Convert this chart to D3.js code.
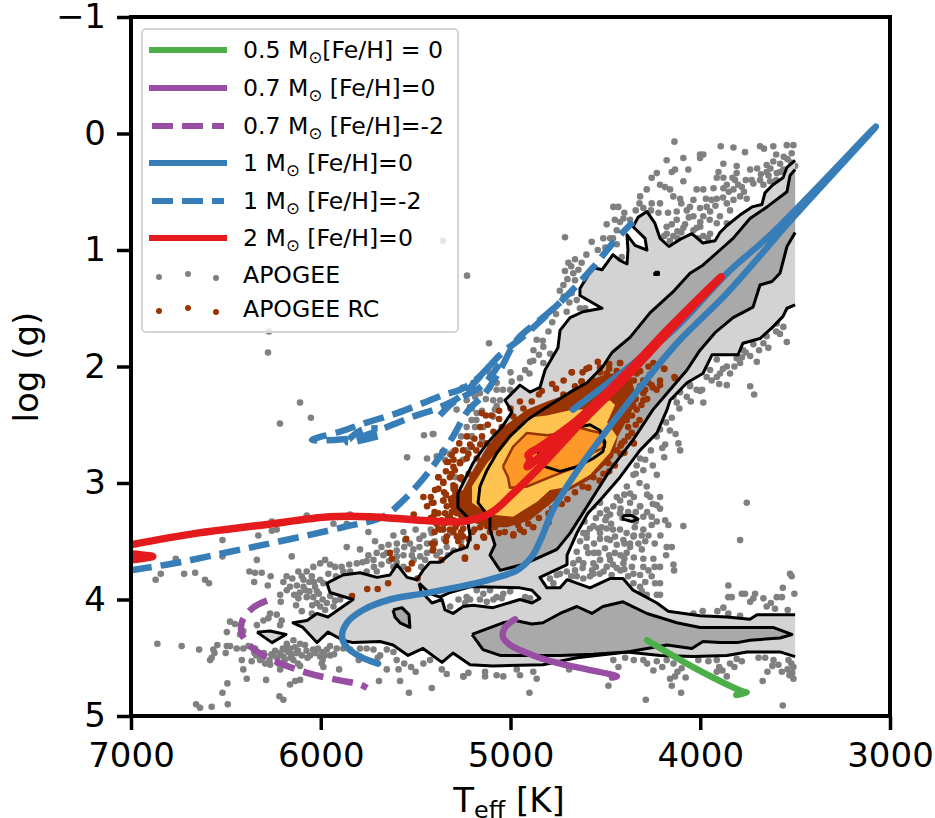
<!DOCTYPE html>
<html>
<head>
<meta charset="utf-8">
<title>log g vs Teff</title>
<script src="https://cdn.jsdelivr.net/npm/d3@7"></script>
<style>
    body { margin: 0; background: #fff; }
    text { font-family: "DejaVu Sans", sans-serif; fill: #000; }
</style>
</head>
<body>
<svg id="container" width="935" height="818"></svg>
<script>
// Everything below is [Teff, log g].
const teffTicks = [7000, 6000, 5000, 4000, 3000];
const loggTicks = [-1, 0, 1, 2, 3, 4, 5];

const track05 = [[4280,4.35],[4038,4.58],[3775,4.79],[3755,4.80],[3810,4.82]];
const track07 = [[4976,4.17],[5029,4.24],[5040,4.32],[5003,4.39],[4880,4.48],[4739,4.55],[4597,4.60],[4439,4.66],[4465,4.67]];
const track07Poor = [[6283,4.01],[6357,4.07],[6415,4.19],[6415,4.30],[6357,4.42],[6252,4.52],[6072,4.63],[5914,4.69],[5793,4.73],[5756,4.76]];
const track1 = [[5698,4.55],[5793,4.49],[5862,4.41],[5888,4.32],[5862,4.20],[5777,4.09],[5635,4.00],[5461,3.95],[5266,3.89],[5092,3.82],[4966,3.75],[4887,3.63],[4834,3.46],[4776,3.23],[4671,2.95],[4544,2.66],[4370,2.29],[4123,1.80],[3859,1.37],[3510,0.72],[3074,-0.06],[3617,0.85],[3859,1.20],[4144,1.69],[4671,2.37]];
const track1Poor = [[7000,3.75],[6742,3.68],[6478,3.59],[6215,3.50],[5883,3.38],[5672,3.29],[5572,3.16],[5424,2.89],[5303,2.60],[5229,2.39],[5134,2.23],[5055,2.03],[4966,1.77],[4845,1.60],[4739,1.45],[4565,1.15],[4460,0.94],[4355,0.76]];
const track1PoorHb = [[5108,1.99],[5187,2.12],[5266,2.20],[5345,2.24],[5440,2.30],[5598,2.40],[5756,2.48],[5899,2.56],[6046,2.63],[5925,2.63],[5809,2.61],[5651,2.52],[5514,2.43],[5387,2.36],[5266,2.26],[5145,2.06],[5055,1.90],[4924,1.73],[4739,1.45]];
const track1PoorAgb = [[5372,2.42],[5303,2.31],[5145,2.16],[5060,1.98]];
const track1PoorLoop = [[5700,2.60],[5860,2.65],[5790,2.55],[5700,2.53]];
const track2 = [[7000,3.53],[6652,3.43],[6304,3.36],[5951,3.29],[5740,3.29],[5477,3.32],[5250,3.33],[5108,3.26],[4987,3.09],[4808,2.80],[4650,2.52],[4370,2.06],[4159,1.69],[3890,1.23],[4159,1.66],[4370,2.02],[4650,2.46],[4845,2.69],[4908,2.76],[4897,2.80],[4913,2.86],[4780,2.68],[4600,2.44]];
const track2Start = [[7000,3.61],[6885,3.63],[7000,3.66]];

const contourOuter = [[3500,.23],[3543,.29],[3564,.38],[3617,.44],[3659,.51],[3675,.61],[3727,.63],[3791,.70],[3859,.79],[3896,.85],[3922,.92],[3986,.94],[4044,.86],[4096,.90],[4165,.97],[4212,.90],[4239,.77],[4281,.67],[4328,.72],[4354,.80],[4291,.90],[4281,1.00],[4344,.96],[4386,.87],[4381,1.00],[4386,1.12],[4423,1.09],[4460,1.04],[4518,1.17],[4565,1.15],[4634,1.33],[4634,1.39],[4518,1.50],[4618,1.53],[4686,1.58],[4739,1.69],[4750,1.84],[4818,2.03],[4845,2.18],[4897,2.22],[4950,2.16],[5029,2.29],[4992,2.39],[5045,2.52],[5124,2.66],[5198,2.83],[5277,3.09],[5277,3.21],[5229,3.29],[5213,3.46],[5229,3.55],[5303,3.59],[5372,3.68],[5424,3.68],[5461,3.75],[5493,3.83],[5545,3.81],[5598,3.70],[5635,3.79],[5704,3.81],[5793,3.77],[5883,3.79],[5967,3.86],[5951,3.94],[5830,4.00],[5883,4.06],[5962,4.15],[6020,4.12],[6072,4.18],[6146,4.20],[6094,4.24],[6020,4.37],[5962,4.28],[5883,4.35],[5830,4.37],[5688,4.36],[5619,4.39],[5540,4.48],[5461,4.42],[5361,4.54],[5303,4.46],[5213,4.56],[5092,4.57],[4829,4.56],[4650,4.50],[4386,4.45],[4212,4.48],[4038,4.49],[3859,4.48],[3754,4.45],[3580,4.45],[3500,4.49],[3500,4.13],[3701,4.13],[3738,4.17],[3859,4.15],[4001,4.14],[4170,4.10],[4228,4.03],[4354,3.92],[4407,3.82],[4476,3.82],[4581,3.90],[4702,3.83],[4739,3.90],[4808,3.90],[4845,3.81],[4702,3.70],[4702,3.62],[4650,3.43],[4592,3.26],[4513,3.12],[4423,2.95],[4318,2.72],[4228,2.57],[4175,2.37],[4159,2.29],[4070,2.14],[3986,2.06],[3938,1.90],[3859,1.90],[3801,1.90],[3775,1.80],[3685,1.76],[3617,1.66],[3564,1.57],[3543,1.50],[3500,1.47]];
const contourHole = [[5482,3.86],[5471,3.93],[5414,4.03],[5361,4.00],[5345,4.09],[5303,4.12],[5250,4.06],[5198,4.05],[5092,4.07],[4950,4.00],[4887,4.03],[4845,3.99],[4887,3.92],[4950,3.90],[5177,3.89],[5213,3.89],[5319,3.94],[5372,3.98],[5424,3.95]];
const contourIslandA = [[6336,4.28],[6267,4.27],[6183,4.30],[6257,4.37]];
const contourIslandB = [[4407,3.28],[4360,3.28],[4328,3.31],[4360,3.33],[4407,3.31]];
const contourIslandC = [[4240,1.19],[4220,1.19],[4220,1.21],[4240,1.21]];
const contourDarkGiants = [[3500,.31],[3527,.36],[3543,.50],[3648,.63],[3738,.73],[3827,.90],[3896,1.00],[3986,1.13],[4054,1.20],[4144,1.36],[4265,1.54],[4370,1.75],[4465,1.88],[4513,2.00],[4597,2.14],[4686,2.22],[4723,2.26],[4829,2.37],[4913,2.46],[5003,2.60],[5071,2.74],[5124,2.89],[5161,3.03],[5171,3.17],[5108,3.30],[5108,3.40],[5082,3.53],[5108,3.62],[5055,3.75],[4934,3.70],[4755,3.57],[4686,3.43],[4592,3.19],[4476,2.89],[4354,2.63],[4249,2.37],[4175,2.23],[4070,2.03],[4001,1.86],[3922,1.71],[3827,1.58],[3722,1.49],[3685,1.30],[3622,1.27],[3580,1.20],[3543,.97],[3500,.85]];
const contourDarkDwarfs = [[5203,4.30],[5040,4.20],[4976,4.18],[4887,4.21],[4829,4.20],[4739,4.12],[4650,4.06],[4571,4.12],[4513,4.06],[4407,4.02],[4281,4.12],[4123,4.20],[4001,4.24],[3806,4.24],[3617,4.24],[3517,4.30],[3580,4.33],[3738,4.35],[3806,4.37],[3896,4.37],[3986,4.36],[4044,4.42],[4175,4.39],[4386,4.45],[4565,4.47],[4739,4.48],[5055,4.48],[5145,4.43]];
const contourDarkIsland = [[5619,4.09],[5572,4.07],[5535,4.13],[5530,4.24],[5582,4.20],[5609,4.15]];
const contourCore = [[4860,2.70],[4845,2.79],[4818,2.86],[4739,2.90],[4650,2.86],[4565,2.79],[4513,2.73],[4502,2.65],[4528,2.55],[4581,2.50],[4644,2.52]];

const rcBase = [[5250,3.06],[5198,2.89],[5124,2.69],[5040,2.52],[4913,2.37],[4808,2.30],[4686,2.23],[4581,2.12],[4491,2.06],[4370,2.06],[4333,2.29],[4386,2.46],[4434,2.60],[4460,2.78],[4581,2.97],[4723,3.09],[4829,3.23],[4897,3.32],[5018,3.38],[5124,3.38],[5229,3.32],[5319,3.21],[5335,3.12]];
const rcYellow = [[5203,3.17],[5108,3.27],[4987,3.29],[4860,3.16],[4792,3.06],[4686,3.03],[4581,2.93],[4476,2.74],[4439,2.60],[4491,2.48],[4449,2.33],[4476,2.29],[4597,2.37],[4671,2.37],[4808,2.42],[4913,2.44],[5018,2.63],[5124,2.83],[5203,3.03]];
const rcOrange = [[5040,2.86],[5013,2.95],[5003,3.04],[4913,3.03],[4792,2.95],[4650,2.86],[4565,2.74],[4502,2.69],[4528,2.57],[4581,2.55],[4650,2.52],[4723,2.57],[4808,2.59],[4913,2.57],[4987,2.69]];

const apogeeStars = [
    [6861,4.38],[6733,4.40],[6641,4.43],[6583,4.52],[6575,4.50],[6566,4.43],[6545,4.39],[6560,4.46],[6501,4.46],[6495,4.40],[6478,4.40],[6443,4.42],[6408,4.42],[6381,4.40],[6346,4.42],
    [6416,4.52],[6408,4.60],[6364,4.53],[6320,4.52],[6293,4.55],[6267,4.56],[6223,4.55],[6214,4.60],[6288,4.69],[6390,4.68],[6492,4.72],[6518,4.80],[6657,4.90],[6636,4.93],[6575,4.92],[6490,4.90],[6218,4.83],[6197,4.86],
    [6162,4.73],[6135,4.70],[6109,4.69],[5903,4.60],[5995,4.55],[5986,4.58],[5693,4.70],[5582,4.70],[5535,4.80],[5415,4.76],[5652,4.60],[5590,4.60],[5524,4.58],[5600,4.52],[5459,4.55],[5424,4.52],[5362,4.60],[5336,4.64],[5248,4.66],[5222,4.63],
    [6179,4.38],[6162,4.42],[6144,4.35],[6126,4.46],[6188,4.43],[6109,4.38],[6083,4.39],[6056,4.48],[6030,4.46],[5995,4.45],[5968,4.43],[5951,4.40],[5916,4.42],[5881,4.42],[5845,4.43],[5793,4.49],[5758,4.42],[5722,4.43],[5687,4.48],[5652,4.43],[5617,4.45],[5793,4.42],[6003,4.49],[6214,4.46],[6197,4.49],[6144,4.52],[6109,4.57],
    [6170,4.45],[6150,4.47],[6135,4.41],[6120,4.44],[6100,4.48],[6075,4.44],[6015,4.42],[5980,4.48],[5930,4.47],[6230,4.50],[6250,4.48],[6190,4.52],[6160,4.50],
    [6118,3.76],[6091,3.83],[6074,3.76],[6047,3.80],[6039,3.72],[6003,3.69],[5977,3.66],[5951,3.70],[5924,3.72],[5881,3.76],[5845,3.76],[5810,3.69],[5758,3.76],[5705,3.76],[6003,3.83],[5986,3.86],[6030,3.89],[6091,3.89],[6126,3.88],[6162,3.89],[6197,3.85],[6179,3.92],[6118,3.99],[6074,3.98],[6039,3.98],[6021,4.03],[6003,4.06],[5968,4.03],[5933,4.06],[5898,4.00],[6100,4.10],[6047,4.12],[5977,4.09],[6214,3.96],[6211,4.02],
    [6060,3.85],[6035,3.85],[6110,3.94],[6140,3.96],[6080,3.92],[6010,3.95],[5990,4.00],[6045,4.05],[6020,3.93],[5950,3.97],[5925,4.01],
    [6264,3.80],[6279,3.88],[6311,3.77],[6346,3.77],[6376,3.76],[6351,3.85],[6337,3.66],[6153,3.63],[5863,3.55],[5793,3.57],[5749,3.42],[5714,3.50],[5705,3.60],[5670,3.62],[5643,3.53],[5617,3.45],[5599,3.52],[5564,3.42],[5555,3.49],
    [6518,3.49],[6518,3.63],[6764,3.65],[6843,3.78],[6870,3.83],[6720,3.78],[6662,3.77],[6610,3.83],[6589,3.86],[6329,3.45],[6258,3.41],[6232,3.40],[6258,3.33],[6074,3.28],[5845,3.27],[5933,3.35],[5863,3.35],
    [6478,4.19],[6452,4.21],[6495,4.28],[6408,4.27],[6425,4.30],[6337,4.22],[6302,4.18],[6267,4.12],[6232,4.13],[6206,4.18],[6214,4.22],[6276,4.16],
    [5652,3.60],[5599,3.63],[5564,3.62],[5512,3.57],[5476,3.63],[5450,3.66],[5371,3.59],[5336,3.55],[5459,3.45],[5415,3.43],[5318,3.43],[5274,3.46],[5248,3.57],[5564,3.72],[5617,3.72],[5749,3.62],[5722,3.66],[5758,3.67],
    [5440,3.52],[5480,3.55],[5390,3.62],[5350,3.48],[5300,3.58],[5420,3.40],[5500,3.40],[5530,3.52],[5470,3.72],[5510,3.66],[5440,3.60],
    [5318,4.06],[5274,4.00],[5239,4.03],[5178,3.92],[5143,3.95],[5108,3.92],[5073,3.98],[5038,3.95],[5002,3.93],[5161,4.00],[5125,4.02],[5090,4.00],[5046,3.99],[4923,3.98],[4897,3.99],[5231,3.98],[5213,4.00],
    [4563,3.20],[4528,3.17],[4493,3.23],[4458,3.20],[4423,3.26],[4528,3.26],[4475,3.27],[4370,3.17],[4317,3.20],[4229,3.19],[4212,3.22],[4300,3.29],[4256,3.29],[4229,3.33],[4185,3.32],[4256,3.36],[4168,3.36],[4089,3.37],[4616,3.43],[4581,3.39],[4537,3.39],[4493,3.39],[4423,3.40],[4388,3.43],[4449,3.46],[4528,3.48],[4475,3.49],[4598,3.47],[4633,3.50],[4651,3.59],[4590,3.60],[4537,3.60],[4502,3.56],[4440,3.53],[4405,3.49],[4352,3.46],[4308,3.45],[4273,3.45],[4370,3.55],[4326,3.52],[4308,3.57],[4388,3.60],[4300,3.65],[4247,3.65],[4177,3.55],[4150,3.55],[4528,3.66],[4475,3.66],[4405,3.69],[4493,3.72],[4440,3.73],[4616,3.69],[4563,3.69],[4669,3.69],[4660,3.75],[4704,3.76],[4739,3.78],[4792,3.82],[4774,3.86],[4756,3.79],[4651,3.80],[4616,3.82],[4563,3.78],[4581,3.80],[4510,3.76],[4467,3.79],[4352,3.78],[4317,3.79],[4273,3.75],[4212,3.72],[4141,3.70],[4138,3.75],[4256,3.80],[4238,3.86],[4212,3.86],[4352,3.86],[4317,3.89],[4308,3.93],[4282,3.96],[4229,3.96],[4212,3.96],[3790,3.49],[3755,3.17],[3852,3.88],[3565,3.90],[3527,3.78],[3518,3.80],
    [4500,3.32],[4470,3.35],[4550,3.30],[4610,3.33],[4410,3.30],[4340,3.33],[4280,3.25],[4345,3.38],[4300,3.40],[4560,3.52],[4490,3.48],[4420,3.62],[4350,3.64],[4450,3.60],[4570,3.75],[4530,3.78],[4400,3.74],[4360,3.72],[4290,3.85],[4620,3.73],[4680,3.80],
    [5248,4.66],[5134,4.62],[5134,4.66],[5073,4.65],[5038,4.66],[4967,4.60],[4950,4.65],[4880,4.62],[4862,4.68],[4900,4.80],[4691,4.60],[4484,4.74],[4458,4.52],[4431,4.58],[4396,4.50],[4300,4.52],[4247,4.61],[4229,4.53],[4177,4.52],[4141,4.55],[4098,4.59],[4159,4.68],[4133,4.66],[4150,4.74],[4101,4.80],[4077,4.67],[4287,4.86],[3957,4.53],[3913,4.52],[3843,4.55],[3808,4.51],[3781,4.53],[3913,4.62],[3883,4.61],[3860,4.66],[3671,4.70],[3565,4.91],[3693,4.50],[3658,4.50],[3614,4.52],[3588,4.56],[3570,4.62],[3646,4.62],[3535,4.52],[3509,4.58],[3509,4.68],[3520,4.55],[3540,4.60],[3515,4.63],
    [4036,4.12],[3987,4.10],[3910,4.10],[3878,4.07],[3852,3.98],[3834,3.98],[3781,3.95],[3764,3.95],[3711,3.95],[3720,3.99],[3737,4.02],[3667,3.99],[3628,4.03],[3597,3.98],[3570,3.98],[3606,4.08],[3539,4.09],[3504,3.95],[3650,4.06],[3852,4.12],[3790,4.14],
    [4136,.07],[3892,.11],[3825,.12],[3764,.16],[3685,.11],[3664,.13],[3615,.11],[3544,.10],[3509,.10],[3518,.17],[4177,.23],[4089,.21],[4001,.18],[3984,.18],[4001,.21],[4133,.31],[4150,.33],[4063,.31],[4229,.34],[4256,.38],[3904,.33],[3913,.38],[3878,.38],[3878,.26],[3808,.28],[3808,.34],[3817,.40],[3737,.31],[3729,.40],[3720,.43],[3650,.27],[3615,.24],[3579,.26],[3562,.31],[3597,.34],[3650,.33],[3500,.28],[4089,.41],[4212,.44],[4186,.46],[4282,.48],[4317,.54],[4159,.48],[4019,.48],[3984,.48],[3878,.47],[3825,.48],[3781,.46],[3685,.40],[3632,.41],[3667,.44],[3790,.54],[3755,.56],[3825,.57],[3860,.60],[3913,.56],[3940,.57],[3966,.63],[4036,.57],[4054,.63],[4106,.56],[4142,.54],[4212,.60],[4256,.60],[4458,.63],[4432,.63],[4300,.64],[4124,.67],[4071,.66],[4001,.64],[3948,.67],[3896,.71],[3843,.66],[4124,.74],[4036,.71],[3984,.71],[3913,.77],[3860,.77],[4177,.80],[4089,.81],[4019,.81],[3948,.86],[4177,.86],[4142,.88],[4036,.83],[3984,.88],[4405,.73],[4423,.76],[4370,.74],[4493,.78],[4440,.83],[4713,.89],[4572,.93],[4511,.90],[4475,.90],[4414,1.06],[4695,1.11],[4625,1.11],[4669,1.20],[4642,1.17],[4713,1.18],[4660,1.26],[4721,1.30],[4677,1.37],[4651,1.43],[4704,1.53],[4634,1.50],[4607,1.50],
    [3562,1.66],[3597,1.63],[3632,1.66],[3544,1.79],[3641,1.84],[3667,1.80],[3720,1.81],[3773,1.86],[3737,1.91],[3702,1.96],[3808,1.93],[3790,1.97],[3860,2.00],[3913,1.94],[3948,2.03],[3896,2.06],[3843,2.06],[3966,2.09],[3913,2.09],[3860,2.16],[3737,2.17],[3716,2.24],[4019,2.20],[4071,2.26],[4124,2.31],[3984,2.31],[4054,2.17],[4001,2.21],
    [5113,1.80],[4862,1.77],[4827,1.83],[4791,1.89],[4879,1.86],[4774,1.97],[4827,1.97],[4897,1.96],[4923,2.03],[4994,2.13],[5196,2.14],[5073,2.20],[5002,2.20],[5108,2.06],[5204,2.36],[5406,2.58],[5204,2.60],[5319,2.75],[5187,2.52],[5345,2.80],
    [4106,2.22],[4054,2.16],[4141,2.26],[4194,2.34],[4212,2.54],[4229,2.60],[4185,2.67],[4115,2.66],[4106,2.72],[4317,2.79],[4335,2.85],[4300,2.89],[4229,2.93],[4387,3.03],[4370,3.09],[4282,3.03],[4264,3.12],[4212,3.12],[4317,3.20],[4440,3.12],[4352,2.93],[4422,3.15],[4493,3.29],[4563,3.37],[4528,3.43],[4598,3.43],[4370,3.52],
    [5252,2.18],[5187,2.26],[5161,2.23],[5073,2.14],[5231,2.29],[5091,2.29],[5073,2.34],[5178,2.40],[5091,2.43],[5284,2.37],[5205,2.46],[5231,2.52],[5205,2.60],[5143,2.52],[5231,2.72],[5301,2.73],[5389,2.77],[5055,2.29],[5082,2.37],
    [5229,1.22],[6109,2.31],[6052,2.44],[6215,2.49],[5456,2.59],[5410,2.58],[5545,2.78],[5440,2.79],[6278,1.88],[6273,1.70],[5356,.92],
    [4100,.60],[4060,.72],[4000,.76],[3950,.74],[3920,.62],[3880,.55],[3850,.50],[3800,.44],[3760,.40],[3700,.30],[3680,.35],[3640,.36],[3600,.40],[3580,.33],[3540,.22],[3520,.25],[3560,.20],[3600,.18],[3630,.30],[3770,.50],[3830,.38],[3860,.44],[3930,.47],[3970,.56],[4080,.78],[4120,.84],[4160,.92],[4190,.88],[4120,.90],[4100,.85],[4010,.90],[3960,.90],[4050,.88],[4000,.80],[4150,.78],[4170,.68],[4220,.68],[4260,.66],[4320,.60],[4340,.66],[4400,.68],[4450,.74],[4460,.90],[4440,.95],[4500,.98],[4540,1.00],[4600,1.04],[4660,1.08],[4680,1.14],[4700,1.25],[4740,1.35],[4690,1.45],[4720,1.40],[4760,1.55],[4780,1.62],[4800,1.70],[4830,1.78],[4850,1.90],[4880,1.95],[4900,2.06],[4950,2.10],[5000,2.05],[5040,2.20],[5110,2.18],[5130,2.28],[5150,2.38],[5180,2.46],[5260,2.60],[5150,2.64],[5250,2.80],[5290,2.95],
    [4050,2.30],[3990,2.20],[3940,2.12],[3900,2.15],[3880,2.02],[3820,2.00],[3780,1.92],[3760,1.88],[3690,1.86],[3650,1.74],[3600,1.70],[3580,1.72],[4110,2.36],[4150,2.44],[4180,2.48],[4160,2.55],[4130,2.58],[4200,2.70],[4260,2.72],[4290,2.80],[4250,2.85],[4190,2.78],[4340,2.92],[4320,3.00],[4280,3.10],[4400,3.10],[4350,3.12],[4420,3.22],[4380,3.25],[4250,3.18],[4340,3.25],[4520,3.38],[4460,3.40],[4400,3.52],[4350,3.45],[4290,3.50],[4240,3.52],[4210,3.45],[4180,3.62],[4560,3.60],[4480,3.62],[4400,3.65],[4600,3.55],[4640,3.66],[4550,3.72],[4380,3.80],[4420,3.75],[4460,3.70],[4300,3.72],[4240,3.72],
    [5900,3.90],[5870,3.95],[5950,3.88],[5920,3.80],[5890,3.72],[5960,3.78],[6060,3.93],[6100,3.80],[6150,3.82],[6180,3.80],[6130,4.05],[5850,3.70],[5780,3.68],[5720,3.72],[5680,3.70],[5640,3.67],[5600,3.68],[5560,3.55],[5520,3.62],[5480,3.48],[5600,3.58],[5680,3.55],[5400,3.50],[5330,3.62],[5260,3.50],[5290,3.66],[5230,3.62],
    [6340,4.48],[6300,4.46],[6260,4.47],[6310,4.50],[6350,4.46],[6270,4.52],[6240,4.44],[6200,4.42],[6120,4.55],[6070,4.50],[6040,4.43],[5990,4.52],[5950,4.48],[5700,4.50],[5800,4.52],[5560,4.55],[5500,4.62],
    [4200,4.58],[4280,4.55],[4350,4.52],[4120,4.62],[4010,4.52],[3900,4.58],[3820,4.58],[3620,4.57],[3530,4.65]
];

const apogeeRc = [
    [4677,2.05],[4625,2.13],[4760,2.19],[4835,2.21],[4888,2.30],[4932,2.36],[4985,2.43],[5046,2.52],[5090,2.56],[5125,2.66],[5160,2.67],[5204,2.69],[5231,2.79],[5178,2.79],[5357,2.73],[5266,2.83],[5301,2.86],[5336,2.82],[5319,2.95],[5380,2.95],[5354,3.00],[5292,3.03],[5398,3.06],[5354,3.15],[5301,3.13],[5406,3.17],[5336,3.20],[5389,3.26],[5283,3.26],[5248,3.20],[5371,3.40],[5319,3.40],[5283,3.46],[5231,3.32],[5178,3.25],[5139,3.47],[5240,3.64],[5336,3.46],[5415,3.52],
    [5125,3.37],[5090,3.33],[5029,3.33],[4985,3.44],[4906,3.35],[4862,3.23],[4809,3.17],[4748,3.12],[4651,2.99],[4563,2.95],[4484,2.83],[4440,2.72],[4387,2.46],[4361,2.57],[4335,2.37],[4300,2.29],[4370,2.30],[4317,2.17],[4273,2.14],[4264,2.07],[4212,2.12],[4189,2.02],[4133,2.10],[4247,1.97],[4317,2.04],[4422,1.97],[4387,2.14],[4458,2.12],[4493,2.06],[4563,2.12],[4528,2.05],[4431,2.32],[4396,2.33],[4352,2.34],[4414,2.66],[5037,2.95],
    [4586,2.01],[4677,2.05],[4423,1.97],[4273,2.00],[4191,2.02],[4136,2.09],[4212,2.16],[4256,2.16],[4300,2.23],[4335,2.06],[4528,2.01],[4625,2.13],[4660,2.17],[4721,2.24],
    [5550,3.48],[5635,3.60],[5625,3.65],[5520,3.69],[5540,3.74],[5490,3.82],[5645,3.86],[5700,3.91],[5755,3.91],[5835,3.97],[5510,3.27],[5400,3.52],[5410,3.58],
    [5290,3.10],[5350,3.08],[5400,3.25],[5330,3.30],[5280,3.35],[5260,3.42],[5200,3.42],[5170,3.30],[5390,3.35],[5310,2.92],[5260,2.95],[5220,2.92],[5180,2.72],[5150,2.60],[5120,2.50],[5060,2.45],[5000,2.36],[4950,2.30],[4850,2.24],[4780,2.15],[4720,2.12],[4620,2.05],[4480,1.98],[4350,2.12],[4290,2.20],[4320,2.46],[4380,2.60],[4420,2.75],[4510,2.92],[4620,3.03],[4700,3.14],[4780,3.22],[4850,3.30],[4950,3.40],[5060,3.43],
    [5354,2.74],[5310,2.76],[5328,2.82],[5293,2.89],[5266,2.82],[5380,2.95],[5354,2.99],[5266,2.96],[5301,3.02],[5293,3.06],[5257,2.97],[5459,3.12],[5354,3.15],[5415,3.17],[5380,3.26],[5345,3.26],[5301,3.20],[5249,3.23],[5407,3.29],[5363,3.32],[5319,3.29],[5380,3.39],[5354,3.40],[5301,3.42],[5249,3.39],[5275,3.50],[5257,3.55],[5407,3.57],[5178,3.55],[5143,3.46],[5108,3.42],[5082,3.38],[4985,3.45],[5240,3.65],[5363,3.66],[5222,2.75],[5213,2.67],[5152,2.40],[5213,2.35],
    [5380,3.05],[5340,3.10],[5420,3.12],[5440,3.20],[5300,3.05],[5270,3.10],[5310,3.25],[5260,3.28],[5420,3.30],[5350,3.35],[5300,3.32],[5400,3.42],[5340,3.50],[5290,3.38],[5250,3.46],[5220,3.48],[5190,3.40],[5160,3.38],[5300,2.80],[5340,2.90],[5290,2.72],[5250,2.72],[5270,2.66],[5230,2.60],[5190,2.62],[5160,2.52],[5130,2.42],[5100,2.42],[5060,2.38],
    [4600,2.02],[4540,1.96],[4480,2.02],[4440,2.04],[4400,2.06],[4360,2.04],[4340,1.98],[4300,2.12],[4250,2.18],[4280,2.28],[4310,2.33],[4230,2.20],[4340,2.28],[4360,2.42],[4400,2.40],[4340,2.50],[4380,2.52],[4400,2.64],[4350,2.66],[4420,2.68],[4400,2.74],[4450,2.85],[4480,2.90],[4530,2.98],[4590,3.04],[4660,3.08],[4730,3.18],[4800,3.26],[4880,3.38],[4930,3.42],[4800,3.34],[5030,3.42],[4960,3.36]
];

// Legend rows, top to bottom.
const legendMass = ['0.5', '0.7', '0.7', '1', '1', '2'];
const legendMetal = ['[Fe/H] = 0', ' [Fe/H]=0', ' [Fe/H]=-2', ' [Fe/H]=0', ' [Fe/H]=-2', ' [Fe/H]=0'];
const legendColor = ['#4daf4a', '#984ea3', '#984ea3', '#377eb8', '#377eb8', '#e41a1c'];
const legendDashed = [false, false, true, false, true, false];
const legendY = [50, 88, 126, 163, 201, 238];

const fillLight = '#d3d3d3', fillDark = '#a9a9a9', dotGray = '#808080', rcBrown = '#993404';
const dash = '21 9';
const axisFont = 34, legendFont = 23.6;

const svg = d3.select('#container');
const plotLeft = 131, plotRight = 890, plotTop = 17, plotBottom = 716;

const x = d3.scaleLinear().domain([7000, 3000]).range([plotLeft, plotRight]);
const y = d3.scaleLinear().domain([-1, 5]).range([plotTop, plotBottom]);
const line = d3.line().x(d => x(d[0])).y(d => y(d[1]));
const smoothLine = d3.line().x(d => x(d[0])).y(d => y(d[1])).curve(d3.curveCatmullRom.alpha(0.5));

svg.append('clipPath').attr('id', 'plotClip').append('rect')
    .attr('x', plotLeft).attr('y', plotTop).attr('width', plotRight - plotLeft).attr('height', plotBottom - plotTop);
const plot = svg.append('g').attr('clip-path', 'url(#plotClip)');

function drawDots(data, color)
{
    plot.append('g').selectAll('circle').data(data).join('circle')
        .attr('cx', d => x(d[0])).attr('cy', d => y(d[1])).attr('r', 3.3).attr('fill', color);
}

function drawFill(rings, color)
{
    plot.append('path').attr('fill', color).attr('fill-rule', 'evenodd')
        .attr('d', rings.map(r => line(r) + 'Z').join(''));
}

// The contour is cut off at the edge of the grid, matplotlib draws no line along that edge.
function drawOutline(ring, color, width)
{
    var parts = [[]];
    ring.concat([ring[0]]).forEach((p, i, all) => {
        if (i > 0 && p[0] === 3500 && all[i - 1][0] === 3500)
        {
            parts.push([]);
        }
        parts[parts.length - 1].push(p);
    });
    parts.forEach(part => {
        plot.append('path').attr('d', line(part)).attr('fill', 'none')
            .attr('stroke', color).attr('stroke-width', width).attr('stroke-linejoin', 'round');
    });
}

function drawTrack(data, color, dashed, width)
{
    plot.append('path').attr('d', smoothLine(data)).attr('fill', 'none')
        .attr('stroke', color).attr('stroke-width', width)
        .attr('stroke-linejoin', 'round')
        .attr('stroke-linecap', dashed ? 'butt' : 'round')
        .attr('stroke-dasharray', dashed ? dash : null);
}

drawDots(apogeeStars, dotGray);

drawFill([contourOuter, contourHole], fillLight);
drawFill([contourIslandA], fillLight);
drawFill([contourIslandB], fillLight);
drawFill([contourDarkGiants], fillDark);
drawFill([contourDarkDwarfs], fillDark);
drawFill([contourDarkIsland], fillDark);

drawFill([rcBase], rcBrown);
drawDots(apogeeRc, rcBrown);
drawFill([rcYellow], '#fec44f');
drawFill([rcOrange], '#fe9929');
drawOutline(rcOrange, rcBrown, 2.5);

[contourOuter, contourHole, contourIslandA, contourIslandB, contourIslandC, contourDarkGiants, contourDarkDwarfs, contourDarkIsland, contourCore]
    .forEach(ring => drawOutline(ring, '#000', 3));

drawTrack(track05, legendColor[0], false, 6.5);
drawTrack(track07, legendColor[1], false, 6.5);
drawTrack(track07Poor, legendColor[2], true, 6.5);
drawTrack(track1Poor, legendColor[4], true, 6.5);
drawTrack(track1PoorHb, legendColor[4], true, 6.5);
drawTrack(track1PoorAgb, legendColor[4], true, 6.5);
drawTrack(track1PoorLoop, legendColor[4], true, 6.5);
drawTrack(track1, legendColor[3], false, 6.5);
drawTrack(track2, legendColor[5], false, 7.5);
drawTrack(track2Start, legendColor[5], false, 7.5);

// Axes
const xAxis = svg.append('g').attr('transform', 'translate(0,' + plotBottom + ')')
    .call(d3.axisBottom(x).tickValues(teffTicks).tickFormat(d3.format('d')).tickSizeInner(14).tickSizeOuter(0).tickPadding(13));
const yAxis = svg.append('g').attr('transform', 'translate(' + plotLeft + ',0)')
    .call(d3.axisLeft(y).tickValues(loggTicks).tickFormat(d => d < 0 ? '\u2212' + Math.abs(d) : d).tickSizeInner(14).tickSizeOuter(0).tickPadding(11));
[xAxis, yAxis].forEach(axis => {
    axis.select('.domain').remove();
    axis.selectAll('line').attr('stroke', '#000').attr('stroke-width', 3.5);
    axis.selectAll('text').attr('font-size', axisFont).attr('font-family', '"DejaVu Sans"');
});

svg.append('rect').attr('x', plotLeft).attr('y', plotTop).attr('width', plotRight - plotLeft).attr('height', plotBottom - plotTop)
    .attr('fill', 'none').attr('stroke', '#000').attr('stroke-width', 4);

const xLabel = svg.append('text').attr('x', 509).attr('y', 812).attr('text-anchor', 'middle').attr('font-size', axisFont);
xLabel.append('tspan').text('T');
xLabel.append('tspan').text('eff').attr('font-size', axisFont * 0.7).attr('dy', 6);
xLabel.append('tspan').text(' [K]').attr('dy', -6);

svg.append('text').attr('transform', 'translate(38,367) rotate(-90)').attr('text-anchor', 'middle')
    .attr('font-size', axisFont).text('log (g)');

// Legend
const legend = svg.append('g');
legend.append('rect').attr('x', 142).attr('y', 29).attr('width', 316).attr('height', 303).attr('rx', 4)
    .attr('fill', '#fff').attr('fill-opacity', 0.8).attr('stroke', '#d4d4d4').attr('stroke-width', 2);

legendMass.forEach((mass, i) => {
    legend.append('line')
        .attr('x1', legendDashed[i] ? 152 : 149).attr('x2', legendDashed[i] ? 224 : 227)
        .attr('y1', legendY[i]).attr('y2', legendY[i])
        .attr('stroke', legendColor[i]).attr('stroke-width', 6)
        .attr('stroke-dasharray', legendDashed[i] ? dash : null);
    const label = legend.append('text').attr('x', 243).attr('y', legendY[i] + 7.5).attr('font-size', legendFont).attr('xml:space', 'preserve');
    label.append('tspan').text(mass + ' M');
    label.append('tspan').text('\u2299').attr('font-size', legendFont * 0.7).attr('dy', 5);
    label.append('tspan').text(legendMetal[i]).attr('dy', -5);
});

const legendDotX = [159, 188, 216];
const legendDotShift = [0, -3, 1];
[['APOGEE', dotGray, 275], ['APOGEE RC', rcBrown, 309]].forEach(row => {
    legend.append('text').attr('x', 243).attr('y', row[2] + 8).attr('font-size', legendFont).text(row[0]);
    legendDotX.forEach((dotX, i) => {
        legend.append('circle').attr('cx', dotX).attr('cy', row[2] + 2 + legendDotShift[i]).attr('r', 3).attr('fill', row[1]);
    });
});
</script>
</body>
</html>
